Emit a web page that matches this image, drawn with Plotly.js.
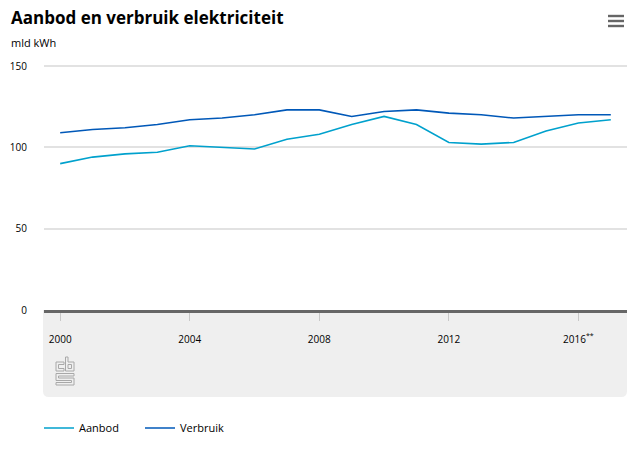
<!DOCTYPE html>
<html>
<head>
<meta charset="utf-8">
<script src="https://cdn.plot.ly/plotly-3.0.1.min.js"></script>
<style>html,body{margin:0;padding:0;background:#fff;}#chart{width:637px;height:450px;}</style>
</head>
<body>
<div id="chart"></div>
<script>
const years = [2000,2001,2002,2003,2004,2005,2006,2007,2008,2009,2010,2011,2012,2013,2014,2015,2016,2017];
const aanbod = [90,94,96,97,101,100,99,105,108,114,119,114,103,102,103,110,115,117];
const verbruik = [109,111,112,114,117,118,120,123,123,119,122,123,121,120,118,119,120,120];
const tickYears = [2000,2004,2008,2012,2016];
const tickLabels = ["2000","2004","2008","2012","2016<sup>**</sup>"];
const seriesNames = ["Aanbod","Verbruik"];

const FONT = "Open Sans, Liberation Sans, sans-serif";
const W = 637, H = 450;
const M = {l:44, r:10, t:63, b:140, autoexpand: false};
const pw = W - M.l - M.r, ph = H - M.t - M.b;
const px = x => (x - M.l) / pw;
const py = y => (H - M.b - y) / ph;
const yTop = ph * 150 / 244;

const traces = [
  {x: years, y: aanbod, name: seriesNames[0], type: "scatter", mode: "lines",
   line: {color: "#00a1cd", width: 1.6}},
  {x: years, y: verbruik, name: seriesNames[1], type: "scatter", mode: "lines",
   line: {color: "#0058b8", width: 1.6}}
];

// gray band below axis with rounded bottom corners
const bx0 = px(43), bx1 = px(627), by0 = py(310), by1 = py(397);
const rx = 6/pw, ry = 6/ph;
const bandPath = `M ${bx0} ${by0} L ${bx1} ${by0} L ${bx1} ${by1+ry} Q ${bx1} ${by1} ${bx1-rx} ${by1} L ${bx0+rx} ${by1} Q ${bx0} ${by1} ${bx0} ${by1+ry} Z`;

const shapes = [
  {type: "path", xref: "paper", yref: "paper", path: bandPath, fillcolor: "#efefef", line: {width: 0}, layer: "below"}
];
// hamburger icon
[16, 21, 26].forEach(y => shapes.push({type: "rect", xref: "paper", yref: "paper",
  x0: px(608), x1: px(624), y0: py(y-1.2), y1: py(y+1.2), fillcolor: "#666", line: {width: 0}}));
// cbs logo outline
const logoColor = "#a8a8a8";
const lpath = (pts, close) => shapes.push({type: "path", xref: "paper", yref: "paper",
  path: pts.map((p, i) => (i ? "L " : "M ") + px(p[0]) + " " + py(p[1])).join(" ") + (close ? " Z" : ""),
  line: {color: logoColor, width: 1}, fillcolor: "rgba(0,0,0,0)"});
// c
lpath([[64,362],[56,362],[56,371],[64,371],[64,368.5],[58.5,368.5],[58.5,364.5],[64,364.5]], true);
// b
lpath([[65.5,357],[65.5,371],[74,371],[74,362],[68,362],[68,357]], true);
lpath([[68,364.5],[71.5,364.5],[71.5,368.5],[68,368.5]], true);
// s
lpath([[74,373.5],[56,373.5],[56,380.5],[71.5,380.5],[71.5,382.5],[56,382.5],[56,385],[74,385],[74,378],[58.5,378],[58.5,376],[74,376]], true);

const layout = {
  width: W, height: H,
  margin: M,
  paper_bgcolor: "#fff", plot_bgcolor: "rgba(0,0,0,0)",
  font: {family: FONT, size: 10, color: "#000"},
  showlegend: true,
  legend: {orientation: "h", x: px(39), xanchor: "left", y: py(428), yanchor: "middle",
    font: {family: FONT, size: 11, color: "#000"}, itemwidth: 30, tracegroupgap: 0,
    entrywidth: 56, entrywidthmode: "pixels"},
  xaxis: {type: "linear", range: [1999.5, 2017.5], tickvals: tickYears, ticktext: tickLabels,
    showgrid: false, zeroline: false, showline: true, linecolor: "#666", linewidth: 2.5,
    ticks: "outside", ticklen: 8, tickcolor: "#c8c8c8", tickwidth: 1, ticklabelstandoff: 10,
    tickfont: {family: FONT, size: 10, color: "#000"}, fixedrange: true},
  yaxis: {range: [0, yTop], tickvals: [0,50,100,150], showgrid: true, gridcolor: "#e2e2e2", gridwidth: 2,
    zeroline: false, showline: false, ticks: "", ticklabelstandoff: 16,
    tickfont: {family: FONT, size: 10, color: "#000"}, fixedrange: true},
  shapes: shapes,
  annotations: [
    {text: "<b>Aanbod en verbruik elektriciteit</b>", xref: "paper", yref: "paper", x: px(9), y: py(18),
     xanchor: "left", yanchor: "middle", showarrow: false, font: {family: FONT, size: 17, color: "#000"}},
    {text: "mld kWh", xref: "paper", yref: "paper", x: px(9), y: py(43),
     xanchor: "left", yanchor: "middle", showarrow: false, font: {family: FONT, size: 11, color: "#000"}}
  ]
};

Plotly.newPlot("chart", traces, layout, {displayModeBar: false, staticPlot: true});
</script>
</body>
</html>
